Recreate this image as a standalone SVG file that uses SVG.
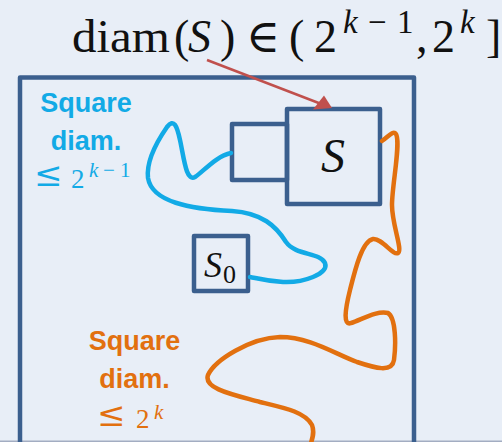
<svg xmlns="http://www.w3.org/2000/svg" width="502" height="442" viewBox="0 0 502 442">
<style>
.box{fill:none;stroke:#3b5f8e;stroke-width:4.5;stroke-linejoin:round}
.m{font-family:"Liberation Serif","DejaVu Serif",serif;fill:#111}
.i{font-style:italic}
.le{font-family:"DejaVu Serif",serif;font-size:34px}
.lab{font-family:"Liberation Sans",Arial,sans-serif;font-weight:bold;font-size:27px;text-anchor:middle}
.cy{fill:#12aae6}
.or{fill:#e2700f}
.wire{fill:none;stroke-width:4.5;stroke-linecap:round;stroke-linejoin:round}
</style>
<rect x="0" y="0" width="502" height="442" fill="#e8eef7"/>
<rect x="0" y="440.5" width="502" height="1.5" fill="#a3adc2"/>

<g id="title">
<text class="m" y="52" font-size="46"><tspan x="72" textLength="98" lengthAdjust="spacingAndGlyphs">diam</tspan><tspan x="174">(</tspan><tspan x="188" class="i">S</tspan><tspan x="220">)</tspan><tspan x="246">∈</tspan><tspan x="289">(</tspan><tspan x="314">2</tspan><tspan x="416">,</tspan><tspan x="432">2</tspan><tspan x="486">]</tspan></text>
<text class="m" y="33" font-size="33"><tspan x="343" class="i">k</tspan><tspan x="368">−</tspan><tspan x="397">1</tspan><tspan x="460" class="i">k</tspan></text>
</g>

<g id="region">
<rect class="box" x="20" y="77.5" width="394" height="380"/>
</g>

<g id="small-square">
<rect class="box" x="232" y="124" width="55" height="56"/>
</g>

<g id="square-S">
<rect class="box" x="287" y="109" width="93" height="95"/>
<text class="m i" x="333" y="172" font-size="48" text-anchor="middle">S</text>
</g>

<g id="square-S0">
<rect class="box" x="194" y="236" width="54" height="55"/>
<text class="m" y="277" font-size="36"><tspan x="204" class="i">S</tspan><tspan x="223" y="283" font-size="26">0</tspan></text>
</g>

<g id="label-cyan">
<text class="lab cy" x="86" y="112">Square</text>
<text class="lab cy" x="86" y="150">diam.</text>
<text class="m cy" y="188" font-size="27"><tspan x="34" y="186" class="le">≤</tspan><tspan x="71" y="188">2</tspan><tspan x="89" y="177" font-size="21" class="i">k</tspan><tspan x="103" y="177" font-size="21">−</tspan><tspan x="120" y="177" font-size="21">1</tspan></text>
</g>

<g id="label-orange">
<text class="lab or" x="134.5" y="350">Square</text>
<text class="lab or" x="134.5" y="388">diam.</text>
<text class="m or" y="428" font-size="27"><tspan x="97" y="426" class="le">≤</tspan><tspan x="136" y="428">2</tspan><tspan x="154" y="419" font-size="21" class="i">k</tspan></text>
</g>

<g id="connectors">
<path class="wire" stroke="#12aae6" d="M231,153 C216,156 203,172 195,177 C186,182 184,158 180,140 C177,126 174,118 167,127 C158,140 146,160 148,178 C152,202 190,209 232,211 C262,213 276,226 286,242 C296,256 320,252 325,263 C329,274 303,283 283,282 C265,281 256,278 250,277"/>
<path class="wire" stroke="#e2700f" d="M382,141 C388,137 393,130 396,134 C401,143 392,185 392,205 C392,225 403,250 398,253 C393,256 382,238 373,239 C362,241 355,270 350,290 C345,310 343,326 351,323 C361,320 377,310 388,313 C396,318 396,345 394,360 C392,373 375,368 357,362 C335,354 310,337 280,337 C250,338 215,360 208,375 C203,389 235,395 260,402 C285,408 305,412 312,425 C315,433 312,440 310,446"/>
<line x1="207" y1="60" x2="320" y2="103.5" stroke="#c0504d" stroke-width="2.5"/>
<polygon points="332,108 313,109.5 324,95.5" fill="#c0504d"/>
</g>
</svg>
